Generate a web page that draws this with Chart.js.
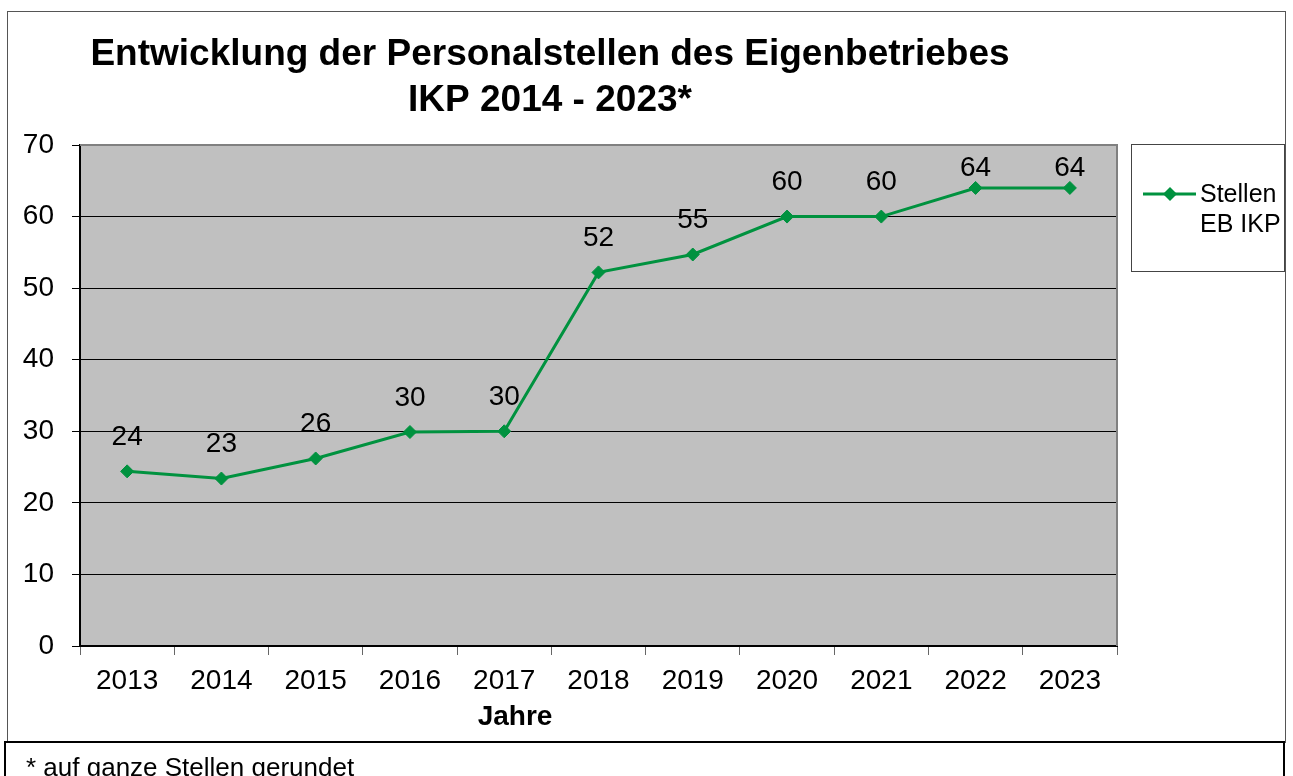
<!DOCTYPE html>
<html>
<head>
<meta charset="utf-8">
<script src="https://cdn.jsdelivr.net/npm/chart.js@4"></script>
<style>
  html, body { margin: 0; padding: 0; background: #fff; }
  #wrap { width: 1293px; height: 776px; position: relative; }
</style>
</head>
<body>
<div id="wrap"><canvas id="chart" width="1293" height="776"></canvas></div>
<script>
// Data
const years = ['2013', '2014', '2015', '2016', '2017', '2018', '2019', '2020', '2021', '2022', '2023'];
const stellen = [24.4, 23.4, 26.2, 29.9, 30.0, 52.2, 54.7, 60.0, 60.0, 64.0, 64.0];
const yTicks = [0, 10, 20, 30, 40, 50, 60, 70];
const titleLines = ['Entwicklung der Personalstellen des Eigenbetriebes', 'IKP 2014 - 2023*'];
const legendLines = ['Stellen', 'EB IKP'];
const xTitle = 'Jahre';
const footnote = '* auf ganze Stellen gerundet';

const FONT = "'Liberation Sans', Arial, sans-serif";
const GREEN = '#00923f';

// Frame, plot background, title, legend, footnote, value labels
const decorations = {
  id: 'decorations',
  beforeDraw(chart) {
    const { ctx, chartArea: a } = chart;
    ctx.save();
    ctx.fillStyle = '#fff';
    ctx.fillRect(0, 0, chart.width, chart.height);
    // outer frame
    ctx.strokeStyle = '#555';
    ctx.lineWidth = 1;
    ctx.strokeRect(7.5, 11.5, 1278, 731);
    // plot fill
    ctx.fillStyle = '#c0c0c0';
    ctx.fillRect(a.left, a.top, a.right - a.left, a.bottom - a.top);
    ctx.restore();
  },
  afterDatasetsDraw(chart) {
    const { ctx, chartArea: a } = chart;
    ctx.save();
    // plot border top/right
    ctx.strokeStyle = '#808080';
    ctx.lineWidth = 2;
    ctx.beginPath();
    ctx.moveTo(a.left, a.top);
    ctx.lineTo(a.right, a.top);
    ctx.lineTo(a.right, a.bottom);
    ctx.stroke();

    // value labels
    const meta = chart.getDatasetMeta(0);
    ctx.fillStyle = '#000';
    ctx.font = '28px ' + FONT;
    ctx.textAlign = 'center';
    ctx.textBaseline = 'middle';
    meta.data.forEach((pt, i) => {
      const y = Math.max(pt.y - 34, a.top + 23);
      ctx.fillText(String(Math.round(stellen[i])), pt.x, y);
    });

    // title
    ctx.font = 'bold 37px ' + FONT;
    ctx.textBaseline = 'alphabetic';
    ctx.fillText(titleLines[0], 550, 65);
    ctx.fillText(titleLines[1], 550, 111);

    // axis title
    ctx.font = 'bold 28px ' + FONT;
    ctx.fillText(xTitle, 515, 725);

    // legend
    ctx.strokeStyle = '#444';
    ctx.lineWidth = 1;
    ctx.strokeRect(1131.5, 144.5, 153, 127);
    ctx.strokeStyle = GREEN;
    ctx.lineWidth = 3;
    ctx.beginPath();
    ctx.moveTo(1143, 194);
    ctx.lineTo(1196, 194);
    ctx.stroke();
    ctx.fillStyle = GREEN;
    ctx.beginPath();
    ctx.moveTo(1163, 194);
    ctx.lineTo(1170, 187);
    ctx.lineTo(1177, 194);
    ctx.lineTo(1170, 201);
    ctx.closePath();
    ctx.fill();
    ctx.fillStyle = '#000';
    ctx.font = '25px ' + FONT;
    ctx.textAlign = 'left';
    ctx.textBaseline = 'middle';
    ctx.fillText(legendLines[0], 1200, 195);
    ctx.fillText(legendLines[1], 1200, 225);

    // footnote box
    ctx.strokeStyle = '#000';
    ctx.lineWidth = 2;
    ctx.strokeRect(5, 742, 1279, 60);
    ctx.font = '26px ' + FONT;
    ctx.textBaseline = 'alphabetic';
    ctx.fillText(footnote, 26, 776);
    ctx.restore();
  }
};

function initChart() {
  const canvas = document.getElementById('chart');
  new Chart(canvas.getContext('2d'), {
    type: 'line',
    data: {
      labels: years,
      datasets: [{
        label: legendLines.join(' '),
        data: stellen,
        borderColor: GREEN,
        backgroundColor: GREEN,
        borderWidth: 3,
        pointStyle: 'rectRot',
        pointRadius: 6.5,
        pointBorderWidth: 1,
        pointBackgroundColor: GREEN,
        pointBorderColor: GREEN,
        tension: 0
      }]
    },
    options: {
      responsive: false,
      animation: false,
      layout: { padding: { top: 145, left: 0, right: 176, bottom: 0 } },
      plugins: {
        legend: { display: false },
        title: { display: false },
        tooltip: { enabled: false }
      },
      scales: {
        x: {
          offset: true,
          afterFit: s => { s.height = 130; },
          grid: { offset: true, drawOnChartArea: false, drawTicks: true, tickLength: 9, color: '#666' },
          border: { color: '#000', width: 2 },
          ticks: { color: '#000', padding: 9, font: { family: FONT, size: 28 }, maxRotation: 0 }
        },
        y: {
          min: yTicks[0],
          max: yTicks[yTicks.length - 1],
          afterFit: s => { s.width = 80; },
          afterBuildTicks: s => { s.ticks = yTicks.map(v => ({ value: v })); },
          grid: { color: '#000', lineWidth: 1, tickLength: 8 },
          border: { color: '#000', width: 2 },
          ticks: { color: '#000', padding: 18, font: { family: FONT, size: 28 } }
        }
      }
    },
    plugins: [decorations]
  });
}

document.addEventListener('DOMContentLoaded', initChart);
</script>
</body>
</html>
